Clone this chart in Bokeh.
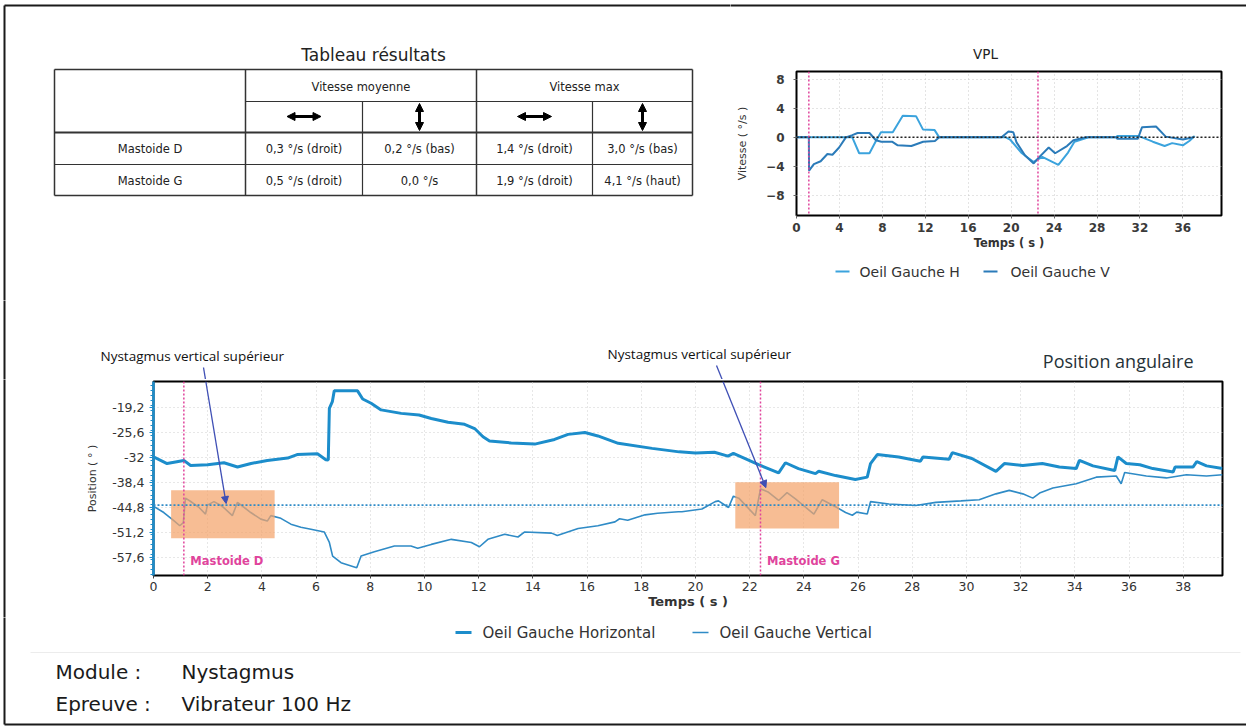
from bokeh.plotting import figure
from bokeh.models import (Range1d, FixedTicker, Span, Label, Arrow, NormalHead)
from bokeh.layouts import column, row
from bokeh.embed import file_html
from bokeh.resources import INLINE
from bokeh.core.properties import value

# ---------------- data ----------------
table_title = "Tableau résultats"
col_groups = ["Vitesse moyenne", "Vitesse max"]
row_labels = ["Mastoide D", "Mastoide G"]
vmoy_h = ["0,3 °/s (droit)", "0,5 °/s (droit)"]
vmoy_v = ["0,2 °/s (bas)", "0,0 °/s"]
vmax_h = ["1,4 °/s (droit)", "1,9 °/s (droit)"]
vmax_v = ["3,0 °/s (bas)", "4,1 °/s (haut)"]

# VPL (°/s)
vpl_t_h = [0, 5.2, 5.84, 6.8, 7.4, 7.87, 8.97, 9.9, 11.15, 11.78, 12.87, 13.3, 19.5, 19.9,
           21.0, 22.1, 22.9, 24.4, 25.3, 25.9, 27.2, 29.8, 29.9, 31.8, 32.2, 33.2, 34.3,
           35.0, 36.0, 36.6, 37.1]
vpl_h = [0, 0, -2.2, -2.2, -0.5, 0.7, 0.7, 3.0, 2.9, 1.1, 1.0, 0, 0, -0.3,
         -2.2, -3.4, -2.7, -3.8, -2.1, -0.6, 0, 0, 0.2, 0.2, 0, -0.6, -1.2,
         -0.8, -1.1, -0.5, 0.2]
vpl_t_v = [0, 1.15, 1.17, 1.62, 2.25, 2.88, 3.35, 3.97, 4.6, 5.2, 5.69, 6.8, 7.4, 7.9,
           8.9, 9.43, 10.7, 11.8, 12.9, 13.3, 19.1, 19.75, 20.2, 20.5, 21.3, 22.1, 22.5,
           23.5, 24.1, 25.2, 25.8, 26.9, 29.8, 29.9, 31.8, 32.2, 33.5, 34.4, 36.0, 37.0]
vpl_v = [0, 0, -4.6, -3.7, -3.3, -2.3, -2.4, -1.4, 0, 0.3, 0.6, 0.6, -0.4, -0.6,
         -0.6, -1.1, -1.2, -0.6, -0.5, 0, 0, 0.8, 0.7, -0.7, -2.5, -3.6, -2.9,
         -1.4, -2.2, -1.2, -0.4, 0, 0, -0.2, -0.2, 1.4, 1.5, 0.1, -0.3, 0]
vpl_events = [1.15, 22.5]
vpl_xticks = [0, 4, 8, 12, 16, 20, 24, 28, 32, 36]
vpl_yticks = [-8, -4, 0, 4, 8]
vpl_names = ["Oeil Gauche H", "Oeil Gauche V"]

# Position angulaire (°)
pos_t_h = [0.0, 0.5, 1.12, 1.37, 2.0, 2.6, 3.1, 3.6, 4.2, 4.95, 5.3, 6.05, 6.36, 6.45, 6.49,
           6.6, 6.67, 7.53, 7.72, 8.03, 8.4, 9.14, 9.8, 10.25, 10.87, 11.48, 11.85, 12.16,
           12.4, 13.2, 14.07, 14.8, 15.3, 15.92, 16.4, 17.15, 18.4, 19.4, 20.0, 20.7, 21.2,
           21.4, 22.33, 23.07, 23.32, 23.8, 24.43, 24.55, 25.17, 25.9, 26.34, 26.46, 26.71,
           27.5, 28.3, 28.4, 29.36, 29.48, 30.2, 31.09, 31.4, 32.08, 32.8, 33.43, 34.05,
           34.17, 34.67, 35.47, 35.59, 35.9, 36.4, 36.88, 37.63, 37.7, 38.36, 38.5, 38.86,
           39.45]
pos_h = [-31.8, -33.5, -32.7, -34.0, -33.8, -33.3, -34.4, -33.5, -32.7, -32.1, -31.2, -31.0,
         -32.5, -32.6, -19.3, -17.6, -14.8, -14.8, -16.9, -18.0, -19.7, -20.6, -21.0, -21.9,
         -22.9, -23.4, -24.5, -26.6, -27.7, -28.2, -28.5, -27.3, -26.0, -25.5, -26.4, -28.3,
         -29.6, -30.5, -30.8, -30.6, -31.6, -30.9, -33.8, -35.9, -33.3, -34.8, -36.1, -35.5,
         -36.6, -37.6, -37.0, -33.5, -31.2, -31.8, -32.9, -31.8, -32.4, -30.7, -32.2, -35.5,
         -33.5, -34.0, -33.5, -34.4, -34.8, -32.7, -34.1, -35.3, -31.8, -33.5, -33.8, -34.8,
         -35.7, -34.4, -34.4, -33.0, -34.1, -34.8]
pos_t_v = [0.0, 0.38, 0.75, 0.97, 1.1, 1.18, 1.36, 1.68, 1.92, 1.99, 2.23, 2.54, 2.91, 3.1,
           3.59, 3.96, 4.2, 4.33, 4.7, 5.07, 5.44, 5.81, 6.3, 6.49, 6.61, 6.92, 7.41, 7.5,
           7.66, 8.15, 8.89, 9.5, 9.75, 10.25, 10.99, 11.73, 12.03, 12.34, 12.96, 13.45,
           13.7, 14.69, 14.9, 15.67, 16.4, 17.03, 17.2, 17.5, 18.14, 18.6, 19.37, 19.5,
           20.24, 20.73, 20.85, 21.22, 21.4, 21.6, 22.21, 22.4, 22.7, 23.07, 23.38, 23.69,
           24.37, 24.68, 25.17, 25.54, 25.79, 25.95, 26.34, 26.46, 27.14, 28.13, 28.87,
           29.8, 30.47, 31.09, 31.58, 32.08, 32.45, 32.7, 33.19, 34.05, 34.79, 35.53,
           35.71, 35.84, 36.64, 37.38, 38.12, 38.86, 39.45]
pos_v = [-44.5, -46.1, -48.2, -49.5, -48.7, -42.4, -43.2, -44.8, -46.5, -44.2, -43.3, -44.5,
         -46.9, -43.5, -46.1, -47.8, -48.3, -46.9, -47.6, -49.1, -49.9, -50.4, -51.1, -53.8,
         -57.3, -59.0, -60.1, -60.3, -57.3, -56.2, -54.7, -54.7, -55.3, -54.3, -53.0, -53.8,
         -54.9, -53.0, -51.7, -52.4, -51.1, -51.4, -52.0, -50.2, -49.5, -48.5, -47.7, -48.1,
         -46.7, -46.3, -45.9, -45.9, -45.2, -43.3, -43.1, -44.8, -41.9, -42.4, -46.9, -40.0,
         -40.9, -43.0, -41.0, -42.6, -46.5, -42.8, -44.6, -46.1, -46.8, -46.0, -46.5, -43.3,
         -43.9, -44.3, -43.5, -43.1, -42.8, -41.3, -40.4, -41.3, -42.4, -41.1, -39.8, -38.7,
         -37.0, -36.7, -38.7, -35.8, -36.7, -37.2, -36.4, -36.7, -36.4]
pos_names = ["Oeil Gauche Horizontal", "Oeil Gauche Vertical"]
pos_events = [1.12, 22.4]
event_labels = ["Mastoide D", "Mastoide G"]
box_t0 = [0.65, 21.47]
box_t1 = [4.47, 25.3]
box_v0 = [-52.7, -50.2]
box_v1 = [-40.4, -38.3]
ref_level = -44.2
annot_text = "Nystagmus vertical supérieur"
annot_target_t = [2.68, 22.6]
annot_target_v = [-43.8, -39.7]
pos_yticks = [-19.2, -25.6, -32, -38.4, -44.8, -51.2, -57.6]
pos_ytick_labels = ["-19,2", "-25,6", "-32", "-38,4", "-44,8", "-51,2", "-57,6"]
pos_xticks = list(range(0, 40, 2))
pos_title = "Position angulaire"

footer = [("Module :", "Nystagmus"), ("Epreuve :", "Vibrateur 100 Hz")]

# ---------------- styling ----------------
BLUE_H = "#1C8DCB"
BLUE_V = "#2F8BC6"
VPL_H = "#3BA3DD"
VPL_V = "#2B7BB9"
MAG = "#E0449C"
DARK = "#1a1a1a"
ARROW_C = "#3F4FB5"
FONT = "DejaVu Sans"


def blank(w, h, xr, yr):
    p = figure(width=w, height=h, x_range=Range1d(*xr), y_range=Range1d(*yr),
               toolbar_location=None, output_backend="svg", min_border=0,
               x_axis_type=None, y_axis_type=None, outline_line_color=None,
               frame_align=False)
    p.grid.visible = False
    return p


# ---------------- table (page x 0..730, y 0..300) ----------------
tab = blank(730, 300, (0, 730), (300, 0))
tab.segment(x0=[4, 4], y0=[5, 5], x1=[4, 732], y1=[303, 5], line_width=2, line_color=DARK)
L, R, T, B = 54, 692, 69, 195
cx = [245, 362, 476, 592]
ry = [101, 132, 164]
tab.segment(x0=[L, L, L, R, cx[0], cx[1], cx[2], cx[3], cx[0], L, L],
            y0=[T, B, T, T, T, ry[0], T, ry[0], ry[0], ry[1], ry[2]],
            x1=[R, R, L, R, cx[0], cx[1], cx[2], cx[3], R, R, R],
            y1=[T, B, B, B, B, B, B, B, ry[0], ry[1], ry[2]],
            line_width=[1.5, 1.5, 1.5, 1.5, 1.5, 1.2, 1.5, 1.2, 1.2, 2, 1.2],
            line_color="#333333")
tab.text(x=[373], y=[54], text=[table_title], text_align="center", text_baseline="middle",
         text_font=value(FONT), text_font_size="17px", text_color="#222222")
tab.text(x=[(cx[0] + cx[2]) / 2, (cx[2] + R) / 2], y=[86, 86], text=col_groups,
         text_align="center", text_baseline="middle", text_font=value(FONT),
         text_font_size="11.5px", text_color="#222222")
rows_y = [148, 180]
col_centers = [(L + cx[0]) / 2, (cx[0] + cx[1]) / 2, (cx[1] + cx[2]) / 2,
               (cx[2] + cx[3]) / 2, (cx[3] + R) / 2]
for i, yy in enumerate(rows_y):
    vals = [row_labels[i], vmoy_h[i], vmoy_v[i], vmax_h[i], vmax_v[i]]
    tab.text(x=col_centers, y=[yy] * 5, text=vals, text_align="center",
             text_baseline="middle", text_font=value(FONT), text_font_size="11.5px",
             text_color="#222222")
for xc in (col_centers[1], col_centers[3]):
    tab.add_layout(Arrow(x_start=xc - 17, y_start=116, x_end=xc + 17, y_end=116,
                         line_width=3, line_color="black",
                         start=NormalHead(size=8, fill_color="black", line_color="black"),
                         end=NormalHead(size=8, fill_color="black", line_color="black")))
for xc in (col_centers[2], col_centers[4]):
    tab.add_layout(Arrow(x_start=xc, y_start=103, x_end=xc, y_end=130,
                         line_width=3, line_color="black",
                         start=NormalHead(size=8, fill_color="black", line_color="black"),
                         end=NormalHead(size=8, fill_color="black", line_color="black")))

# ---------------- VPL title strip (page x 730..1246, y 0..62) ----------------
vtop = blank(516, 62, (730, 1246), (62, 0))
vtop.segment(x0=[727], y0=[5], x1=[1248], y1=[5], line_width=2, line_color=DARK)
vtop.text(x=[985], y=[53], text=["VPL"], text_align="center", text_baseline="middle",
          text_font=value(FONT), text_font_size="13.5px", text_color="#222222")

# ---------------- VPL chart (page y 62..255) ----------------
vpl = figure(width=516, height=193, x_range=Range1d(0, 39.6), y_range=Range1d(-10.8, 9.1),
             toolbar_location=None, output_backend="svg", frame_align=False,
             min_border_left=66, min_border_right=25, min_border_top=9, min_border_bottom=40)
vpl.outline_line_color = "black"
vpl.outline_line_width = 2
vpl.xaxis.ticker = FixedTicker(ticks=vpl_xticks)
vpl.yaxis.ticker = FixedTicker(ticks=vpl_yticks)
for ax in (vpl.xaxis, vpl.yaxis):
    ax.axis_line_color = None
    ax.major_tick_line_color = "#666666"
    ax.minor_tick_line_color = None
    ax.major_tick_in = 0
    ax.major_tick_out = 3
    ax.major_label_text_font = FONT
    ax.major_label_text_font_size = "12px"
    ax.major_label_text_font_style = "bold"
    ax.major_label_text_color = "#3a3a3a"
    ax.axis_label_text_font = FONT
    ax.axis_label_text_font_size = "11.5px"
    ax.axis_label_text_font_style = "bold"
    ax.axis_label_text_color = "#333333"
vpl.xaxis.axis_label = "Temps ( s )"
vpl.xaxis.major_label_standoff = 4
vpl.xaxis.axis_label_standoff = 1
vpl.yaxis.axis_label = "Vitesse ( °/s )"
vpl.yaxis.axis_label_text_font_style = "normal"
vpl.yaxis.axis_label_text_font_size = "11px"
vpl.yaxis.major_label_standoff = 9
vpl.yaxis.axis_label_standoff = 14
vpl.grid.grid_line_color = "#c8c8c8"
vpl.grid.grid_line_dash = "1 3"
vpl.xgrid.ticker = FixedTicker(ticks=vpl_xticks)
vpl.ygrid.ticker = FixedTicker(ticks=vpl_yticks)
vpl.add_layout(Span(location=0, dimension="width", line_color="#222222",
                    line_dash="2 2", line_width=1.5))
for te in vpl_events:
    vpl.add_layout(Span(location=te, dimension="height", line_color=MAG,
                        line_dash="2 2", line_width=1.5))
vpl.line(vpl_t_h, vpl_h, line_color=VPL_H, line_width=2)
vpl.line(vpl_t_v, vpl_v, line_color=VPL_V, line_width=2)

# ---------------- VPL legend strip (page y 255..300) ----------------
vleg = blank(516, 45, (730, 1246), (300, 255))
vleg.segment(x0=[835, 983], y0=[271, 271], x1=[849, 997], y1=[271, 271],
             line_color=[VPL_H, VPL_V], line_width=2)
vleg.text(x=[859, 1010], y=[271, 271], text=vpl_names, text_baseline="middle",
          text_font=value(FONT), text_font_size="14px", text_color="#333333")

# ---------------- Position angulaire ----------------
# frame geometry on the page (used only to join the annotation arrows)
FX0, FX1, FY0, FY1 = 153.0, 1222.0, 381.0, 575.0
XR = (0, 39.45)
YR = (-62.3, -12.4)


def page_x(t):
    return FX0 + (t - XR[0]) * (FX1 - FX0) / (XR[1] - XR[0])


def page_y(v):
    return FY0 + (YR[1] - v) * (FY1 - FY0) / (YR[1] - YR[0])


def data_t(px):
    return XR[0] + (px - FX0) * (XR[1] - XR[0]) / (FX1 - FX0)


annot_text_x = [100, 607]
annot_start = [(203, 367), (716, 365)]

ptop = blank(1246, 79, (0, 1246), (379, 300))
ptop.segment(x0=[4], y0=[297], x1=[4], y1=[382], line_width=2, line_color=DARK)
ptop.text(x=annot_text_x, y=[355, 353], text=[annot_text, annot_text],
          text_baseline="middle", text_font=value("Open Sans"), text_font_size="13.5px",
          text_color="#111111")
ptop.text(x=[1193], y=[360], text=[pos_title], text_align="right", text_baseline="middle",
          text_font=value("Open Sans"), text_font_size="18px", text_color="#263238")
cross_t = []
for (sx, sy), tt, tv in zip(annot_start, annot_target_t, annot_target_v):
    ex, ey = page_x(tt), page_y(tv)
    f379 = (379 - sy) / (ey - sy)
    ptop.segment(x0=[sx], y0=[sy], x1=[sx + (ex - sx) * f379], y1=[379],
                 line_color=ARROW_C, line_width=1.3)
    f381 = (FY0 - sy) / (ey - sy)
    cross_t.append(data_t(sx + (ex - sx) * f381))

strip = blank(6, 238, (0, 6), (617, 379))
strip.segment(x0=[4], y0=[376], x1=[4], y1=[620], line_width=2, line_color=DARK)

pos = figure(width=1240, height=238, x_range=Range1d(*XR), y_range=Range1d(*YR),
             toolbar_location=None, output_backend="svg", frame_align=False,
             min_border_left=147, min_border_right=24, min_border_top=2, min_border_bottom=42)
pos.outline_line_color = "black"
pos.outline_line_width = 2
minor_y = [round(-62.08 + 1.28 * k, 2) for k in range(40)]
pos.xaxis.ticker = FixedTicker(ticks=pos_xticks)
pos.yaxis.ticker = FixedTicker(ticks=pos_yticks, minor_ticks=minor_y)
pos.yaxis.major_label_overrides = {t: s for t, s in zip(pos_yticks, pos_ytick_labels)}
for ax in (pos.xaxis, pos.yaxis):
    ax.major_label_text_font = FONT
    ax.major_label_text_font_size = "12.5px"
    ax.major_label_text_color = "#333333"
    ax.axis_label_text_font = FONT
    ax.axis_label_text_color = "#333333"
pos.xaxis.axis_line_color = None
pos.xaxis.major_tick_line_color = "#444444"
pos.xaxis.major_tick_in = 0
pos.xaxis.major_tick_out = 3
pos.xaxis.minor_tick_line_color = None
pos.xaxis.major_label_standoff = 3
pos.xaxis.axis_label = "Temps ( s )"
pos.xaxis.axis_label_text_font_size = "13px"
pos.xaxis.axis_label_text_font_style = "bold"
pos.xaxis.axis_label_standoff = 0
pos.yaxis.axis_line_color = BLUE_H
pos.yaxis.axis_line_width = 2.5
pos.yaxis.major_tick_line_color = BLUE_H
pos.yaxis.minor_tick_line_color = BLUE_H
pos.yaxis.major_tick_in = 0
pos.yaxis.major_tick_out = 4
pos.yaxis.minor_tick_in = 0
pos.yaxis.minor_tick_out = 3
pos.yaxis.major_label_standoff = 5
pos.yaxis.axis_label = "Position ( ° )"
pos.yaxis.axis_label_text_font_size = "11px"
pos.yaxis.axis_label_text_font_style = "normal"
pos.yaxis.axis_label_standoff = 10
pos.grid.grid_line_color = "#cfcfcf"
pos.grid.grid_line_dash = "1 3"
pos.xgrid.ticker = FixedTicker(ticks=pos_xticks)
pos.ygrid.ticker = FixedTicker(ticks=pos_yticks)

pos.add_layout(Span(location=ref_level, dimension="width", line_color=BLUE_V,
                    line_dash="2 2", line_width=1.6))
for te, lab in zip(pos_events, event_labels):
    pos.add_layout(Span(location=te, dimension="height", line_color=MAG,
                        line_dash="2 2", line_width=1.5))
    pos.add_layout(Label(x=te + 0.24, y=-58.5, text=lab, text_font=FONT,
                         text_font_size="11.5px", text_font_style="bold", text_color=MAG,
                         text_baseline="middle"))
pos.line(pos_t_h, pos_h, line_color=BLUE_H, line_width=3)
pos.line(pos_t_v, pos_v, line_color=BLUE_V, line_width=1.6)
pos.quad(left=box_t0, right=box_t1, bottom=box_v0, top=box_v1,
         fill_color="#F4A36B", fill_alpha=0.72, line_color=None)
for k in range(2):
    pos.add_layout(Arrow(x_start=cross_t[k], y_start=YR[1], x_end=annot_target_t[k],
                         y_end=annot_target_v[k], line_color=ARROW_C, line_width=1.3,
                         end=NormalHead(size=7, fill_color=ARROW_C, line_color=ARROW_C)))

# ---------------- footer (page y 617..726): legend + texts ----------------
foot = blank(1246, 109, (0, 1246), (726, 617))
foot.segment(x0=[4, 4], y0=[614, 724], x1=[4, 1248], y1=[724, 724], line_width=2,
             line_color=DARK)
foot.segment(x0=[455, 692], y0=[632, 632], x1=[471, 708], y1=[632, 632],
             line_color=[BLUE_H, BLUE_V], line_width=[3, 1.6])
foot.text(x=[482, 719], y=[632, 632], text=pos_names, text_baseline="middle",
          text_font=value(FONT), text_font_size="15px", text_color="#333333")
foot.segment(x0=[30], y0=[652], x1=[1240], y1=[652], line_width=1, line_color="#ececec")
foot.text(x=[55, 55], y=[671, 703], text=[f[0] for f in footer], text_baseline="middle",
          text_font=value(FONT), text_font_size="20px", text_color="#1a1a1a")
foot.text(x=[181, 181], y=[671, 703], text=[f[1] for f in footer], text_baseline="middle",
          text_font=value(FONT), text_font_size="20px", text_color="#1a1a1a")

layout = column(row(tab, column(vtop, vpl, vleg)), ptop, row(strip, pos), foot)
open("out.html", "w").write(file_html(layout, INLINE))
